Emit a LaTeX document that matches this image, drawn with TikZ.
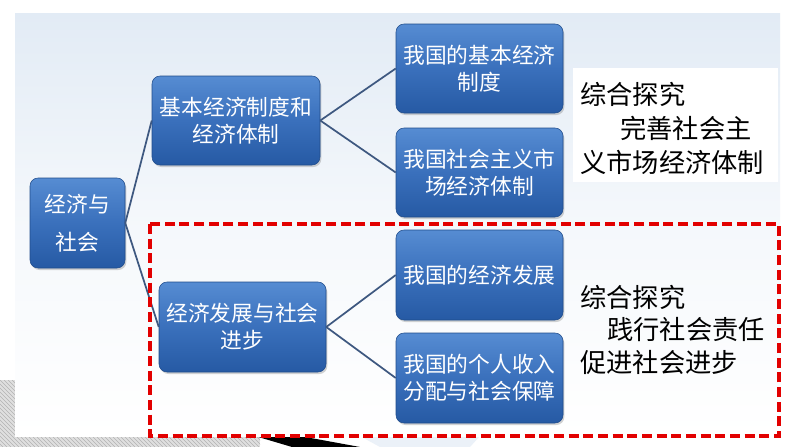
\documentclass[tikz,border=0pt]{standalone}
\usepackage{fontspec}
\newfontfamily\cjk{Noto Sans CJK SC}
\usetikzlibrary{shadows}
\definecolor{nodetop}{RGB}{86,140,210}
\definecolor{nodemid}{RGB}{58,112,188}
\definecolor{nodebot}{RGB}{38,90,164}
\definecolor{linkc}{RGB}{62,88,128}
\definecolor{panelt}{RGB}{226,235,245}
\definecolor{redd}{RGB}{226,0,0}
\tikzset{
  nbox/.style={rounded corners=6pt, top color=nodetop, bottom color=nodebot, middle color=nodemid,
    draw=nodebot!85!black, line width=0.4pt, text=white, align=center,
    font=\cjk\fontsize{16.3pt}{20.3pt}\selectfont, inner sep=2pt,
    drop shadow={shadow xshift=1pt, shadow yshift=-1.5pt, opacity=0.35}},
  link/.style={draw=linkc, line width=1.3pt},
  sidetxt/.style={anchor=west, inner sep=0pt, font=\cjk\fontsize{19.7pt}{24pt}\selectfont, text=black}
}
\begin{document}
\begin{tikzpicture}[x=0.75pt,y=-0.75pt]
\useasboundingbox (0,0) rectangle (794,447);
\fill[white] (0,0) rectangle (794,447);
% hatched strip bottom-left
\begin{scope}
  \clip (0,436) rectangle (260,447) (0,380) rectangle (15,447);
  \fill[gray!25] (0,380) rectangle (260,447);
  \foreach \i in {-80,-76,...,270} {\draw[gray!60, line width=0.4pt] (\i,380) -- (\i+67,447);}
\end{scope}
\fill[black] (255,436) -- (300,436) -- (360,447) -- (292,447) -- cycle;
\fill[panelt!70] (360,436) -- (480,436) -- (470,447) -- (380,447) -- cycle;
% panel
\shade[top color=panelt, bottom color=white, middle color=panelt!35] (15,13) rectangle (780,436);
% white box behind top right text
\fill[white] (573,68) rectangle (778,182);
% nodes
\node[nbox, minimum width=71.25pt, minimum height=67.5pt,
  font=\cjk\fontsize{16.3pt}{28.5pt}\selectfont] (root) at (77.5,223) {经济与\\社会};
\node[nbox, minimum width=126pt, minimum height=66.75pt] (b) at (236,120.5) {基本经济制度和\\经济体制};
\node[nbox, minimum width=125.25pt, minimum height=67.5pt] (c) at (242.5,327) {经济发展与社会\\进步};
\node[nbox, minimum width=125.25pt, minimum height=66.75pt] (d1) at (479.5,68.5) {我国的基本经济\\制度};
\node[nbox, minimum width=125.25pt, minimum height=66.75pt] (d2) at (479.5,172.5) {我国社会主义市\\场经济体制};
\node[nbox, minimum width=125.25pt, minimum height=67.5pt] (d3) at (479.5,275) {我国的经济发展};
\node[nbox, minimum width=125.25pt, minimum height=67.5pt] (d4) at (479.5,378) {我国的个人收入\\分配与社会保障};
% connectors
\draw[link] (root.east) -- (b.west);
\draw[link] (root.east) -- (c.west);
\draw[link] (b.east) -- (d1.west);
\draw[link] (b.east) -- (d2.west);
\draw[link] (c.east) -- (d3.west);
\draw[link] (c.east) -- (d4.west);
% side texts
\node[sidetxt] (t1) at (580,94) {综合探究};
\node[sidetxt] (t2) at (620,128) {完善社会主};
\node[sidetxt] (t3) at (580,162) {义市场经济体制};
\node[sidetxt] (t4) at (580,297) {综合探究};
\node[sidetxt] (t5) at (607,330) {践行社会责任};
\node[sidetxt] (t6) at (580,363) {促进社会进步};
% red dashed frame
\draw[redd, line width=2.4pt, dash pattern=on 7.5pt off 3.5pt] (150,224) rectangle (779,436);
\end{tikzpicture}
\end{document}
